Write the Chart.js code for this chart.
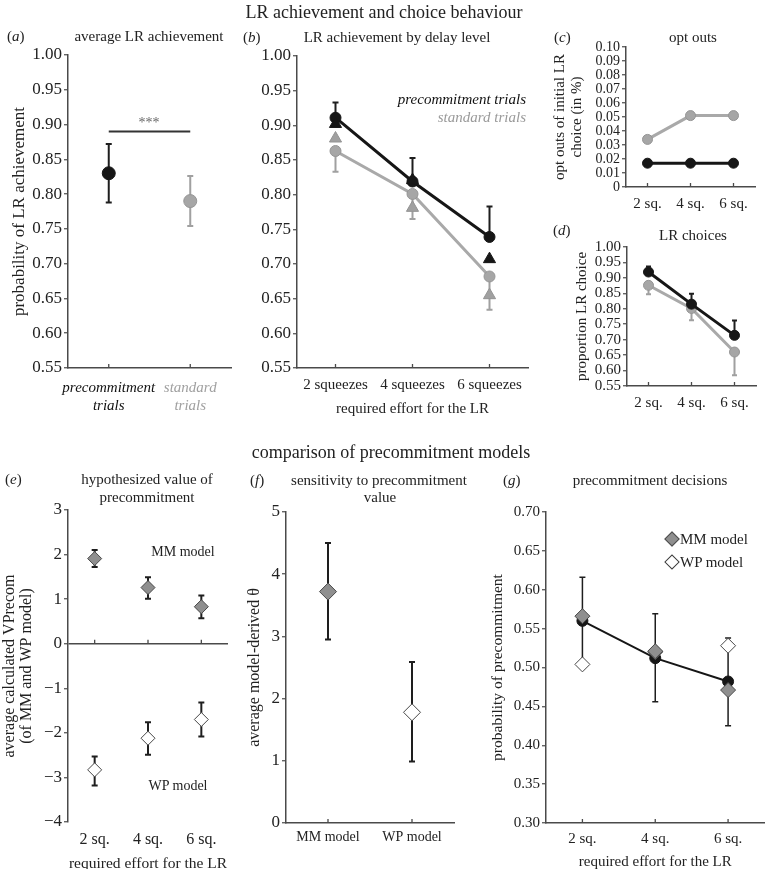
<!DOCTYPE html>
<html><head><meta charset="utf-8">
<script src="https://cdn.jsdelivr.net/npm/chart.js@4.4.0/dist/chart.umd.min.js"></script>
<style>
html,body{margin:0;padding:0;background:#fff;}
#wrap{position:relative;width:773px;height:869px;overflow:hidden;font-family:'Liberation Serif',serif;color:#222;}
canvas{position:absolute;left:0;top:0;}
.t,.l,.r{position:absolute;white-space:nowrap;line-height:1;}
.t{transform:translate(-50%,-50%);}
.l{transform:translate(0,-50%);}
.r{transform:translate(-100%,-50%);}
.dia{position:absolute;width:9px;height:9px;transform:translate(-50%,-50%) rotate(45deg);}
</style></head>
<body><div id="wrap">
<canvas id="ca" width="773" height="880"></canvas>
<canvas id="cb" width="773" height="880"></canvas>
<canvas id="cc" width="773" height="880"></canvas>
<canvas id="cd" width="773" height="880"></canvas>
<canvas id="ce" width="773" height="880"></canvas>
<canvas id="cf" width="773" height="880"></canvas>
<canvas id="cg" width="773" height="880"></canvas>

<div class="t" style="left:384px;top:12px;font-size:18px">LR achievement and choice behaviour</div>
<div class="l" style="left:7px;top:36px;font-size:15px">(<i>a</i>)</div>
<div class="t" style="left:149px;top:36px;font-size:15px">average LR achievement</div>
<div class="t" style="left:149px;top:123px;font-size:14px;color:#666">***</div>
<div class="l" style="left:243px;top:37px;font-size:15px">(<i>b</i>)</div>
<div class="t" style="left:397px;top:37px;font-size:15px">LR achievement by delay level</div>
<div class="r" style="left:526px;top:99px;font-size:15px;font-style:italic;color:#111">precommitment trials</div>
<div class="r" style="left:526px;top:117px;font-size:15px;font-style:italic;color:#9a9a9a">standard trials</div>
<div class="l" style="left:554px;top:37px;font-size:15px">(<i>c</i>)</div>
<div class="t" style="left:693px;top:37px;font-size:15px">opt outs</div>
<div class="l" style="left:553px;top:230px;font-size:15px">(<i>d</i>)</div>
<div class="t" style="left:693px;top:235px;font-size:15px">LR choices</div>

<div class="t" style="left:391px;top:452px;font-size:18px">comparison of precommitment models</div>
<div class="l" style="left:5px;top:479px;font-size:15px">(<i>e</i>)</div>
<div class="t" style="left:147px;top:479px;font-size:15px">hypothesized value of</div>
<div class="t" style="left:147px;top:497px;font-size:15px">precommitment</div>
<div class="t" style="left:183px;top:552px;font-size:14px">MM model</div>
<div class="t" style="left:178px;top:786px;font-size:14px">WP model</div>
<div class="l" style="left:250px;top:480px;font-size:15px">(<i>f</i>)</div>
<div class="t" style="left:379px;top:480px;font-size:15px">sensitivity to precommitment</div>
<div class="t" style="left:380px;top:497px;font-size:15px">value</div>
<div class="l" style="left:503px;top:480px;font-size:15px">(<i>g</i>)</div>
<div class="t" style="left:650px;top:480px;font-size:15px">precommitment decisions</div>
<div class="dia" style="left:672px;top:539px;background:#8f8f8f;border:1px solid #4d4d4d"></div>
<div class="dia" style="left:672px;top:562px;background:#fff;border:1px solid #3d3d3d"></div>
<div class="l" style="left:680px;top:539px;font-size:15px">MM model</div>
<div class="l" style="left:680px;top:562px;font-size:15px">WP model</div>
</div>
<script>
// ---------- data ----------
// (a)
const aCats = [['precommitment','trials'],['standard','trials']];
const aMean = [0.83, 0.79];
const aLow  = [0.788, 0.754];
const aHigh = [0.872, 0.826];
const aSig  = [0.89, 0.89];
const ticksProb = [0.55,0.60,0.65,0.70,0.75,0.80,0.85,0.90,0.95,1.00];
// (b)
const bCats = ['2 squeezes','4 squeezes','6 squeezes'];
const bPreCirc = [0.911, 0.819, 0.739];
const bPreHi   = [0.933, 0.853, 0.783];
const bPreTri  = [0.902, 0.821, 0.707];
const bStdCirc = [0.863, 0.801, 0.682];
const bStdLo   = [0.833, 0.765, 0.634];
const bStdTri  = [0.881, 0.781, 0.655];
// (c)
const sqCats = ['2 sq.','4 sq.','6 sq.'];
const cStd = [0.034, 0.051, 0.051];
const cPre = [0.017, 0.017, 0.017];
const ticksOpt = [0,0.01,0.02,0.03,0.04,0.05,0.06,0.07,0.08,0.09,0.10];
// (d)
const dPre   = [0.919, 0.815, 0.714];
const dPreHi = [0.937, 0.849, 0.762];
const dStd   = [0.876, 0.801, 0.660];
const dStdLo = [0.847, 0.763, 0.585];
// (e)
const eMM   = [1.91, 1.26, 0.83];
const eMMLo = [1.72, 1.01, 0.57];
const eMMHi = [2.10, 1.49, 1.08];
const eWP   = [-2.83, -2.12, -1.70];
const eWPLo = [-3.18, -2.49, -2.08];
const eWPHi = [-2.53, -1.76, -1.32];
const ticksE = [-4,-3,-2,-1,0,1,2,3];
// (f)
const fCats = ['MM model','WP model'];
const fMean = [3.72, 1.78];
const fLo   = [2.95, 0.99];
const fHi   = [4.50, 2.59];
const ticksF = [0,1,2,3,4,5];
// (g)
const gMean = [0.560, 0.512, 0.482];
const gLo   = [0.504, 0.456, 0.425];
const gHi   = [0.616, 0.569, 0.538];
const gMM   = [0.566, 0.521, 0.471];
const gWP   = [0.504, 0.520, 0.528];
const ticksG = [0.30,0.35,0.40,0.45,0.50,0.55,0.60,0.65,0.70];

// ---------- style ----------
const F = 'Liberation Serif';
const TXT = '#222', AX = '#4a4a4a';
const BLK = '#161616', GRY = '#a6a6a6', GRYB = '#959595', LGRY = '#a9a9a9';
const MMF = '#8f8f8f', DIAB = '#474747';
const CW = 773, CH = 880;

const errPlugin = {
  id: 'errbars',
  beforeDatasetsDraw(chart) {
    const ctx = chart.ctx, ys = chart.scales.y;
    chart.data.datasets.forEach((ds, di) => {
      if (!ds.errHi && !ds.errLo) return;
      const meta = chart.getDatasetMeta(di);
      ds.data.forEach((v, i) => {
        const x = meta.data[i].x;
        const yh = ys.getPixelForValue(ds.errHi ? ds.errHi[i] : v);
        const yl = ys.getPixelForValue(ds.errLo ? ds.errLo[i] : v);
        const c = ds.capW || 3;
        ctx.save();
        ctx.strokeStyle = Array.isArray(ds.errColor) ? ds.errColor[i] : ds.errColor;
        ctx.lineWidth = ds.errWidth || 2;
        ctx.beginPath();
        ctx.moveTo(x, yh); ctx.lineTo(x, yl);
        if (ds.errHi) { ctx.moveTo(x - c, yh); ctx.lineTo(x + c, yh); }
        if (ds.errLo) { ctx.moveTo(x - c, yl); ctx.lineTo(x + c, yl); }
        ctx.stroke();
        ctx.restore();
      });
    });
  }
};
const tickPlugin = {
  id: 'inticks',
  beforeDatasetsDraw(chart) {
    const o = chart.options.plugins.inticks || {};
    const xs = chart.scales.x, ys = chart.scales.y, ctx = chart.ctx;
    const y0 = o.atZero ? ys.getPixelForValue(0) : chart.chartArea.bottom;
    ctx.save();
    ctx.strokeStyle = AX; ctx.lineWidth = 1.3;
    ctx.beginPath();
    xs.ticks.forEach((t, i) => {
      const x = xs.getPixelForTick(i);
      ctx.moveTo(x, y0); ctx.lineTo(x, y0 - 4);
    });
    ctx.stroke();
    ctx.restore();
  }
};

function yAx(o) {
  return {
    type: 'linear', position: 'left', min: o.min, max: o.max,
    afterBuildTicks: s => { s.ticks = o.ticks.map(v => ({ value: v })); },
    afterFit: s => { s.width = o.W; },
    ticks: { autoSkip: false, padding: 2, color: TXT, font: { family: F, size: o.size }, callback: o.fmt },
    grid: {
      display: true, drawOnChartArea: !!o.zero, drawTicks: true, tickLength: 4, tickWidth: 1.2, tickColor: AX,
      color: o.zero ? (c => (c.tick && c.tick.value === 0) ? AX : 'rgba(0,0,0,0)') : 'rgba(0,0,0,0)',
      lineWidth: 1.5
    },
    border: { display: true, color: AX, width: 1.5 },
    title: { display: !!o.title, text: o.title || '', color: TXT, padding: 0,
      font: { family: F, size: o.tsize || 17, lineHeight: o.tlh || 1.2 } }
  };
}
function xAx(o) {
  return {
    type: 'category', offset: true,
    afterFit: s => { s.height = o.H; },
    grid: { display: false },
    border: { display: o.border !== false, color: AX, width: 1.5 },
    ticks: { autoSkip: false, maxRotation: 0, minRotation: 0, padding: o.pad, color: o.color || TXT,
      font: { family: F, size: o.size || 15, style: o.style || 'normal', lineHeight: 1.2 } },
    title: { display: !!o.title, text: o.title || '', color: TXT, padding: 0,
      font: { family: F, size: o.tsize || 15, lineHeight: 1.2 } }
  };
}
function build(id, labels, datasets, x, y, area, pl) {
  const cfg = {
    type: 'line',
    data: { labels, datasets },
    options: {
      responsive: false, animation: false, events: [],
      layout: { padding: { left: area.L - y.W, top: area.T, right: CW - area.R, bottom: CH - area.B - x.H } },
      scales: { x: xAx(x), y: yAx(y) },
      plugins: { legend: { display: false }, tooltip: { enabled: false }, inticks: pl || {} }
    },
    plugins: [errPlugin, tickPlugin]
  };
  const ch = new Chart(document.getElementById(id), cfg);
  const ca = ch.chartArea;
  const p = cfg.options.layout.padding;
  const np = { left: p.left + (area.L - ca.left), top: p.top + (area.T - ca.top),
    right: p.right + (ca.right - area.R), bottom: p.bottom + (ca.bottom - area.B) };
  if (Math.abs(np.left - p.left) + Math.abs(np.top - p.top) + Math.abs(np.right - p.right) + Math.abs(np.bottom - p.bottom) > 0.5) {
    ch.options.layout.padding = np;
    ch.update('none');
  }
  return ch;
}
const f2 = v => v.toFixed(2);
const pts = (data, fill, border, r, style, extra) => Object.assign({
  data, showLine: false, pointStyle: style || 'circle', pointRadius: r,
  pointBackgroundColor: fill, pointBorderColor: border, pointBorderWidth: 1, clip: false
}, extra || {});
const lineDs = (data, col, w, r, fill, border, extra) => Object.assign({
  data, borderColor: col, borderWidth: w, pointRadius: r, pointStyle: 'circle',
  pointBackgroundColor: fill, pointBorderColor: border, pointBorderWidth: 1, clip: false
}, extra || {});

// (a)
build('ca', aCats, [
  lineDs(aSig, '#333', 2, 0, '#333', '#333'),
  pts(aMean, [BLK, GRY], [BLK, GRYB], 6.5, 'circle', { errLo: aLow, errHi: aHigh, errColor: ['#1e1e1e', '#a0a0a0'] })
], { H: 50, pad: 3.5, size: 15, style: 'italic', color: c => c.index === 0 ? '#111' : '#a0a0a0' },
   { min: 0.55, max: 1.0, ticks: ticksProb, fmt: f2, size: 17, W: 58.2, title: 'probability of LR achievement', tsize: 17 },
   { L: 68, T: 55, R: 231, B: 368 }, {});

// (b)
build('cb', bCats, [
  pts(bPreTri, BLK, BLK, 7, 'triangle'),
  lineDs(bPreCirc, BLK, 3, 5.5, BLK, BLK, { errHi: bPreHi, errColor: '#1e1e1e' }),
  pts(bStdTri, '#a0a0a0', '#939393', 7, 'triangle'),
  lineDs(bStdCirc, LGRY, 3, 5.5, GRY, GRYB, { errLo: bStdLo, errColor: '#a0a0a0' })
], { H: 50, pad: 0, size: 15, title: 'required effort for the LR', tsize: 15 },
   { min: 0.55, max: 1.0, ticks: ticksProb, fmt: f2, size: 17, W: 45 },
   { L: 297, T: 56, R: 528, B: 368 }, {});

// (c)
build('cc', sqCats, [
  lineDs(cPre, BLK, 3, 5, BLK, BLK),
  lineDs(cStd, LGRY, 3, 5, GRY, GRYB)
], { H: 30, pad: 0.5, size: 15 },
   { min: 0, max: 0.10, ticks: ticksOpt, fmt: v => v === 0 ? '0' : v.toFixed(2), size: 14, W: 74.6,
     title: ['opt outs of initial LR', 'choice (in %)'], tsize: 15, tlh: 1.15 },
   { L: 626, T: 47, R: 755, B: 187 }, {});

// (d)
build('cd', sqCats, [
  lineDs(dPre, BLK, 3, 5, BLK, BLK, { errHi: dPreHi, errColor: '#1e1e1e', capW: 2.5 }),
  lineDs(dStd, LGRY, 3, 5, GRY, GRYB, { errLo: dStdLo, errColor: '#a0a0a0', capW: 2.5 })
], { H: 30, pad: 0, size: 15 },
   { min: 0.55, max: 1.0, ticks: ticksProb, fmt: f2, size: 15, W: 54, title: 'proportion LR choice', tsize: 15 },
   { L: 627, T: 247, R: 756, B: 386 }, {});

// (e)
build('ce', sqCats, [
  pts(eMM, MMF, DIAB, 7, 'rectRot', { errLo: eMMLo, errHi: eMMHi, errColor: '#1e1e1e' }),
  pts(eWP, '#ffffff', DIAB, 7, 'rectRot', { errLo: eWPLo, errHi: eWPHi, errColor: '#1e1e1e' })
], { H: 51.5, pad: 0, size: 16, title: 'required effort for the LR', tsize: 15.5, border: false },
   { min: -4, max: 3, ticks: ticksE, fmt: v => v < 0 ? '\u2212' + Math.abs(v) : String(v), size: 17, W: 66.5, zero: true,
     title: ['average calculated VPrecom', '(of MM and WP model)'], tsize: 16, tlh: 1.06 },
   { L: 68, T: 510, R: 228, B: 822 }, { atZero: true });

// (f)
build('cf', fCats, [
  pts(fMean, [MMF, '#ffffff'], DIAB, 8.5, 'rectRot', { errLo: fLo, errHi: fHi, errColor: '#1e1e1e' })
], { H: 40, pad: -2, size: 14 },
   { min: 0, max: 5, ticks: ticksF, fmt: v => String(v), size: 17, W: 40.6, title: 'average model-derived \u03b8', tsize: 16 },
   { L: 286, T: 512, R: 454, B: 823 }, {});

// (g)
build('cg', sqCats, [
  pts(gMM, MMF, DIAB, 7.5, 'rectRot'),
  pts(gWP, '#ffffff', DIAB, 7.5, 'rectRot'),
  lineDs(gMean, BLK, 2, 5.5, BLK, BLK, { errLo: gLo, errHi: gHi, errColor: '#1e1e1e', errWidth: 1.5 })
], { H: 48, pad: -1, size: 15, title: 'required effort for the LR', tsize: 15 },
   { min: 0.30, max: 0.70, ticks: ticksG, fmt: f2, size: 15, W: 57.3, title: 'probability of precommitment', tsize: 15.5 },
   { L: 546, T: 512, R: 773, B: 823 }, {});
</script>
</body></html>
